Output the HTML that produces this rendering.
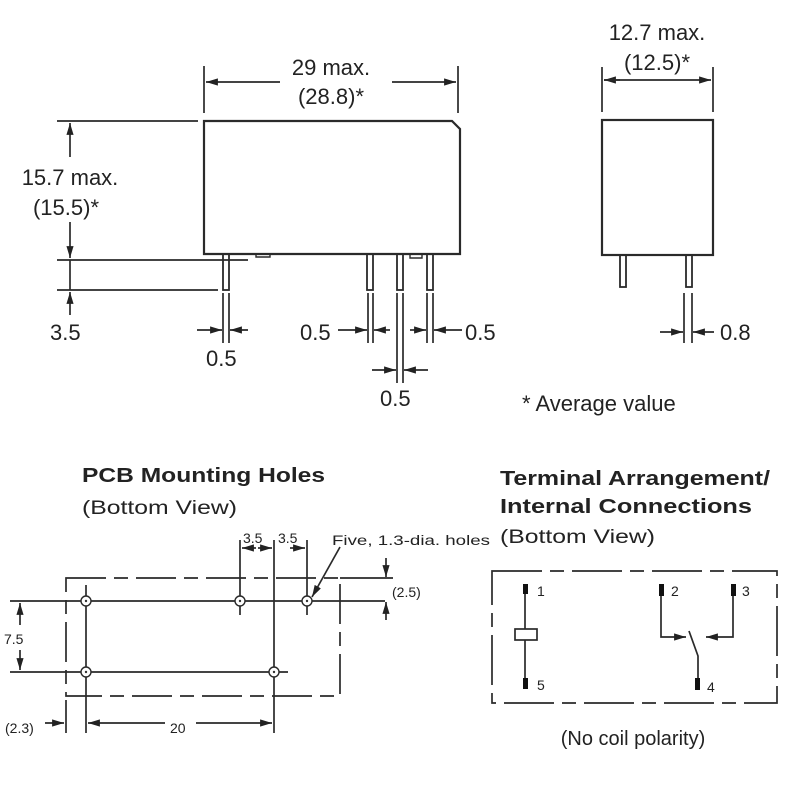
<!DOCTYPE html>
<html><head><meta charset="utf-8"><style>
html,body{margin:0;padding:0;background:#fff;}
svg{display:block;}
text{font-family:"Liberation Sans",sans-serif;fill:#222;}
</style></head><body>
<svg width="800" height="800" viewBox="0 0 800 800" xmlns="http://www.w3.org/2000/svg">
<defs>
<marker id="a" viewBox="0 0 10 10" refX="10" refY="5" markerWidth="7" markerHeight="7" orient="auto-start-reverse"><path d="M0,2 L10,5 L0,8 z" fill="#222"/></marker>
</defs>
<g stroke="#2a2a2a" stroke-width="1.7" fill="none">
<path d="M204,121 H452 L460,129 V254 H204 Z" stroke-width="2.2"/>
<line x1="204" y1="66" x2="204" y2="113"/><line x1="458" y1="66" x2="458" y2="113"/>
<line x1="280" y1="82" x2="206" y2="82" marker-end="url(#a)"/>
<line x1="392" y1="82" x2="456" y2="82" marker-end="url(#a)"/>
<line x1="57" y1="121" x2="198" y2="121"/>
<line x1="70" y1="157" x2="70" y2="123" marker-end="url(#a)"/>
<line x1="70" y1="222" x2="70" y2="258" marker-end="url(#a)"/>
<line x1="57" y1="260" x2="248" y2="260"/>
<line x1="57" y1="290" x2="218" y2="290"/>
<line x1="70" y1="260" x2="70" y2="290"/>
<line x1="70" y1="315" x2="70" y2="292" marker-end="url(#a)"/>
<rect x="223" y="254" width="6" height="36" stroke-width="1.8"/>
<rect x="367" y="254" width="6" height="36" stroke-width="1.8"/>
<rect x="397" y="254" width="6" height="36" stroke-width="1.8"/>
<rect x="427" y="254" width="6" height="36" stroke-width="1.8"/>
<path d="M256,254 v3 h14 v-3" stroke-width="1.4"/>
<path d="M410,254 v4 h12 v-4" stroke-width="1.4"/>
<line x1="223" y1="293" x2="223" y2="343"/><line x1="229" y1="293" x2="229" y2="343"/>
<line x1="197" y1="330" x2="222" y2="330" marker-end="url(#a)"/>
<line x1="248" y1="330" x2="230" y2="330" marker-end="url(#a)"/>
<line x1="368" y1="293" x2="368" y2="343"/><line x1="373" y1="293" x2="373" y2="343"/>
<line x1="397" y1="293" x2="397" y2="383"/><line x1="403" y1="293" x2="403" y2="383"/>
<line x1="427" y1="293" x2="427" y2="343"/><line x1="433" y1="293" x2="433" y2="343"/>
<line x1="338" y1="330" x2="367" y2="330" marker-end="url(#a)"/>
<line x1="390" y1="330" x2="374" y2="330" marker-end="url(#a)"/>
<line x1="410" y1="330" x2="426" y2="330" marker-end="url(#a)"/>
<line x1="462" y1="330" x2="434" y2="330" marker-end="url(#a)"/>
<line x1="372" y1="370" x2="396" y2="370" marker-end="url(#a)"/>
<line x1="428" y1="370" x2="404" y2="370" marker-end="url(#a)"/>
<rect x="602" y="120" width="111" height="135" stroke-width="2.2"/>
<line x1="602" y1="67" x2="602" y2="112"/><line x1="713" y1="67" x2="713" y2="112"/>
<line x1="620" y1="80" x2="604" y2="80" marker-end="url(#a)"/>
<line x1="604" y1="80" x2="711" y2="80" marker-end="url(#a)"/>
<rect x="620" y="255" width="6" height="32" stroke-width="1.8"/>
<rect x="686" y="255" width="6" height="32" stroke-width="1.8"/>
<line x1="684" y1="293" x2="684" y2="343"/><line x1="692" y1="293" x2="692" y2="343"/>
<line x1="660" y1="332" x2="683" y2="332" marker-end="url(#a)"/>
<line x1="714" y1="332" x2="693" y2="332" marker-end="url(#a)"/>
<rect x="66" y="578" width="274" height="118" stroke-dasharray="40,8,14,8"/>
<line x1="10" y1="601" x2="385" y2="601"/>
<line x1="10" y1="672" x2="288" y2="672"/>
<line x1="86" y1="585" x2="86" y2="733"/>
<line x1="274" y1="540" x2="274" y2="733"/>
<line x1="240" y1="540" x2="240" y2="615"/>
<line x1="307" y1="540" x2="307" y2="615"/>
<line x1="256" y1="548" x2="242" y2="548" marker-end="url(#a)"/>
<line x1="258" y1="548" x2="272" y2="548" marker-end="url(#a)"/>
<line x1="290" y1="548" x2="305" y2="548" marker-end="url(#a)"/>
<line x1="340" y1="547" x2="312" y2="597" marker-end="url(#a)"/>
<line x1="340" y1="578" x2="393" y2="578"/>
<line x1="386" y1="558" x2="386" y2="577" marker-end="url(#a)"/>
<line x1="386" y1="620" x2="386" y2="602" marker-end="url(#a)"/>
<line x1="20" y1="625" x2="20" y2="603" marker-end="url(#a)"/>
<line x1="20" y1="650" x2="20" y2="670" marker-end="url(#a)"/>
<line x1="66" y1="700" x2="66" y2="733"/>
<line x1="45" y1="723" x2="64" y2="723" marker-end="url(#a)"/>
<line x1="165" y1="723" x2="88" y2="723" marker-end="url(#a)"/>
<line x1="196" y1="723" x2="272" y2="723" marker-end="url(#a)"/>
<g stroke-width="1.4" fill="#fff">
<circle cx="86" cy="601" r="5"/><circle cx="240" cy="601" r="5"/><circle cx="307" cy="601" r="5"/>
<circle cx="86" cy="672" r="5"/><circle cx="274" cy="672" r="5"/>
</g>
<g fill="#333" stroke="none">
<circle cx="86" cy="601" r="1.2"/><circle cx="240" cy="601" r="1.2"/><circle cx="307" cy="601" r="1.2"/>
<circle cx="86" cy="672" r="1.2"/><circle cx="274" cy="672" r="1.2"/>
</g>
<rect x="492" y="571" width="285" height="132" stroke-dasharray="50,8,14,8"/>
<line x1="525" y1="593" x2="525" y2="678"/>
<rect x="515" y="629" width="22" height="11" fill="#fff"/>
<path d="M661,596 V637 H686" marker-end="url(#a)"/>
<path d="M733,596 V637 H706" marker-end="url(#a)"/>
<path d="M689,631 L698,656 V678"/>
</g>
<g fill="#111">
<rect x="523" y="584" width="5" height="10"/><rect x="523" y="678" width="5" height="11"/>
<rect x="659" y="584" width="5" height="12"/><rect x="731" y="584" width="5" height="12"/>
<rect x="695" y="678" width="5" height="12"/>
</g>
<g font-size="22">
<text x="331" y="75" text-anchor="middle">29 max.</text>
<text x="331" y="104" text-anchor="middle">(28.8)*</text>
<text x="70" y="185" text-anchor="middle">15.7 max.</text>
<text x="66" y="215" text-anchor="middle">(15.5)*</text>
<text x="50" y="340">3.5</text>
<text x="206" y="366">0.5</text>
<text x="300" y="340">0.5</text>
<text x="465" y="340">0.5</text>
<text x="380" y="406">0.5</text>
<text x="657" y="40" text-anchor="middle">12.7 max.</text>
<text x="657" y="70" text-anchor="middle">(12.5)*</text>
<text x="720" y="340">0.8</text>
<text x="522" y="411">* Average value</text>
</g>
<g font-size="20" font-weight="bold">
<text x="82" y="482" textLength="243" lengthAdjust="spacingAndGlyphs">PCB Mounting Holes</text>
<text x="500" y="485" textLength="270" lengthAdjust="spacingAndGlyphs">Terminal Arrangement/</text>
<text x="500" y="513" textLength="252" lengthAdjust="spacingAndGlyphs">Internal Connections</text>
</g>
<g font-size="19">
<text x="82" y="514" textLength="155" lengthAdjust="spacingAndGlyphs">(Bottom View)</text>
<text x="500" y="543" textLength="155" lengthAdjust="spacingAndGlyphs">(Bottom View)</text>
<text x="633" y="745" text-anchor="middle" font-size="20">(No coil polarity)</text>
</g>
<g font-size="14">
<text x="243" y="543">3.5</text><text x="278" y="543">3.5</text>
<text x="332" y="545" textLength="158" lengthAdjust="spacingAndGlyphs">Five, 1.3-dia. holes</text>
<text x="392" y="597">(2.5)</text>
<text x="4" y="644">7.5</text>
<text x="5" y="733">(2.3)</text>
<text x="170" y="733">20</text>
<text x="537" y="596">1</text><text x="537" y="690">5</text>
<text x="671" y="596">2</text><text x="742" y="596">3</text>
<text x="707" y="692">4</text>
</g>
</svg>
</body></html>
